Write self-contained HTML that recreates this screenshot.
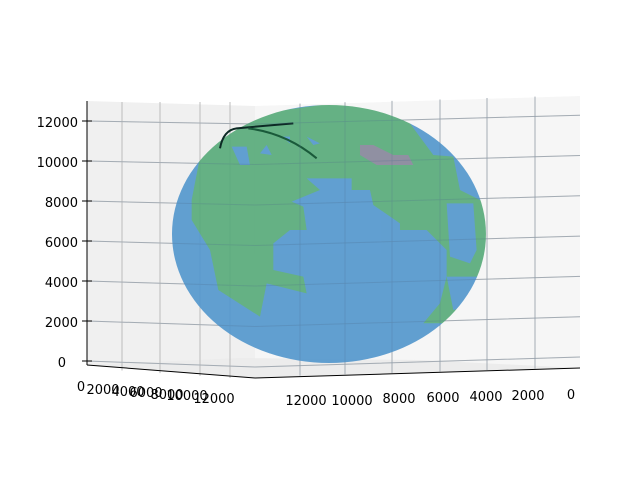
<!DOCTYPE html>
<html><head><meta charset="utf-8"><style>
body{margin:0;background:#fff}
svg text{font-family:"DejaVu Sans","Liberation Sans",sans-serif;font-size:13px;fill:#000}
</style></head><body>
<svg width="640" height="480" viewBox="0 0 640 480" xmlns="http://www.w3.org/2000/svg">
<defs><clipPath id="gc"><ellipse cx="507" cy="432" rx="471" ry="387"/></clipPath></defs>
<polygon points="87,101 255,106 255,378 87,365" fill="#f0f0f0"/>
<polygon points="255,106 580,96 580,368 255,378" fill="#f6f6f6"/>
<polygon points="87,365 255,378 580,368 420,360 240,358" fill="#ececec"/>
<g id="grid" stroke="#bdbdbd" stroke-width="1" fill="none"></g>
<g transform="translate(160,90) scale(0.3333)">
<g clip-path="url(#gc)" opacity="0.9">
<rect x="0" y="0" width="1020" height="900" fill="#56aa78"/>
<polygon fill="#5196cd" points="440,265 575,265 575,300 630,300 640,345 720,400 720,420 800,420 860,480 860,560 840,640 790,700 1020,700 1020,900 0,900 0,180 130,150 95,330 95,390 150,480 175,600 300,680 320,580 440,610 430,560 340,540 340,460 390,420 440,420 430,350 395,335 480,300"/>
<polygon fill="#5196cd" points="820,195 880,200 900,300 960,330 1020,330 1020,0 700,0 720,60"/>
<polygon fill="#5196cd" points="0,0 500,0 520,40 300,70 150,110 0,160"/>
<polygon fill="#5196cd" points="860,340 940,340 950,480 930,520 870,500"/>
<polygon fill="#5196cd" points="860,560 960,560 960,640 880,660"/>
<polygon fill="#5196cd" points="215,170 260,170 270,225 240,225"/>
<polygon fill="#5196cd" points="300,190 320,165 335,195"/>
<polygon fill="#5196cd" points="365,140 390,140 390,160"/>
<polygon fill="#5196cd" points="440,140 480,160 460,165"/>
<polygon fill="#86869a" points="600,165 640,165 700,195 745,195 760,225 650,225 600,195"/>
</g>
<path d="M180,175 Q190,120 230,115 L400,100" stroke="#0d2a25" stroke-width="6" fill="none"/>
<path d="M265,115 Q380,130 470,205" stroke="#1a5a3a" stroke-width="6" fill="none"/>
</g>
<g id="grid2" stroke="#5a7a9a" stroke-opacity="0.25" stroke-width="1" fill="none"></g>
<g stroke="#000" stroke-width="1" fill="none">
<line x1="87" y1="101" x2="87" y2="365"/>
<line x1="87" y1="365" x2="255" y2="378"/>
<line x1="255" y1="378" x2="580" y2="368"/>
</g>
<g id="zt"></g>
<g>
<text x="306" y="405" text-anchor="middle">12000</text>
<text x="352" y="405" text-anchor="middle">10000</text>
<text x="399" y="403" text-anchor="middle">8000</text>
<text x="443" y="402" text-anchor="middle">6000</text>
<text x="486" y="401" text-anchor="middle">4000</text>
<text x="528" y="400" text-anchor="middle">2000</text>
<text x="571" y="399" text-anchor="middle">0</text>
</g>
<g>
<text x="81" y="391" text-anchor="middle">0</text>
<text x="103" y="394" text-anchor="middle">2000</text>
<text x="128" y="396" text-anchor="middle">4000</text>
<text x="146" y="397" text-anchor="middle">6000</text>
<text x="167" y="399" text-anchor="middle">8000</text>
<text x="187" y="400" text-anchor="middle">10000</text>
<text x="214" y="403" text-anchor="middle">12000</text>
</g>
</svg>
<script>
const zTicks=[0,2000,4000,6000,8000,10000,12000];
const ns="http://www.w3.org/2000/svg";
const zy=v=>361-v/2000*40;
const g=document.getElementById('grid'),g2=document.getElementById('grid2'),zt=document.getElementById('zt');
zTicks.forEach(v=>{const y=zy(v);
 const pts=`87,${y} 255,${y+6-v/2000*0.5} 580,${y-4-v/2000*0.3}`;
 const p=document.createElementNS(ns,'polyline');
 
 
 p.setAttribute('points',pts);g.appendChild(p);
 const p2=document.createElementNS(ns,'polyline');
 
 
 p2.setAttribute('points',pts);g2.appendChild(p2);
 const t=document.createElementNS(ns,'text');
 
 
 t.setAttribute('x',v===0?66:78);t.setAttribute('y',y+6);t.setAttribute('text-anchor','end');t.textContent=v;zt.appendChild(t);
 const l=document.createElementNS(ns,'line');
 
 
 l.setAttribute('x1',82);l.setAttribute('x2',92);l.setAttribute('y1',y);l.setAttribute('y2',y);l.setAttribute('stroke','#000');zt.appendChild(l);
});
[122,160,200,230].forEach(x=>{const l=document.createElementNS(ns,'line');
 
 
 l.setAttribute('x1',x);l.setAttribute('x2',x);l.setAttribute('y1',102);l.setAttribute('y2',368+(x-87)*0.07);g.appendChild(l);});
[300,345,392,440,487,535].forEach(x=>{
 [g,g2].forEach(grp=>{const l=document.createElementNS(ns,'line');
 
 
 l.setAttribute('x1',x);l.setAttribute('x2',x);l.setAttribute('y1',105-(x-255)*0.03);l.setAttribute('y2',377-(x-255)*0.03);grp.appendChild(l);});});
</script>
</body></html>
